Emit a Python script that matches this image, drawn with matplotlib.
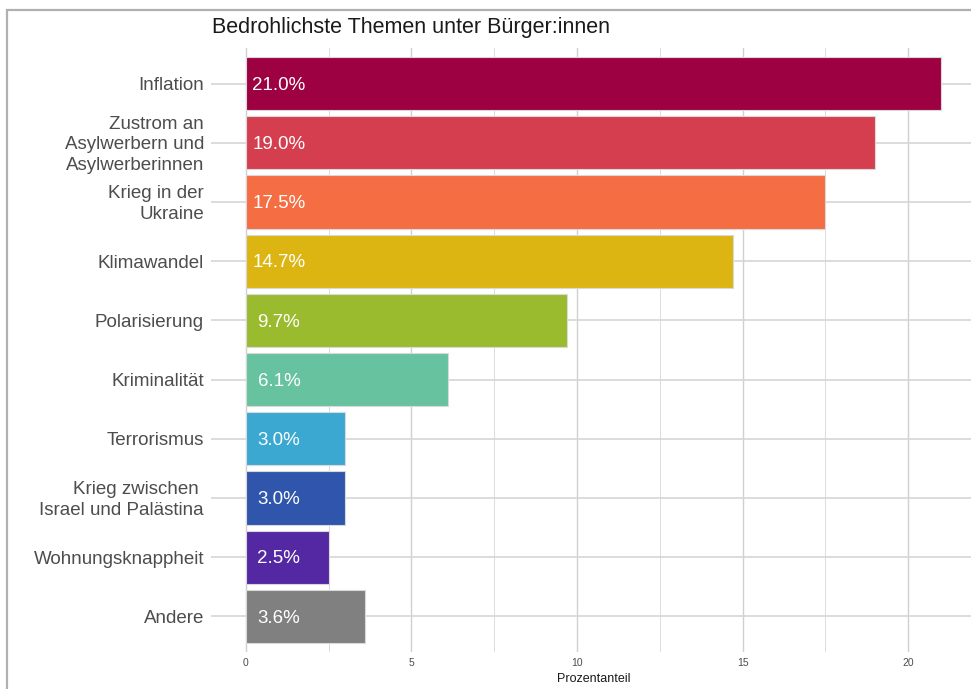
import matplotlib
matplotlib.use("Agg")
import matplotlib.pyplot as plt
import matplotlib.transforms as mtransforms
from matplotlib.patches import Rectangle
from matplotlib.ticker import MultipleLocator

categories = ["Inflation", "Zustrom an\nAsylwerbern und\nAsylwerberinnen", "Krieg in der\nUkraine",
              "Klimawandel", "Polarisierung", "Kriminalität", "Terrorismus",
              "Krieg zwischen \nIsrael und Palästina", "Wohnungsknappheit", "Andere"]
values = [21.0, 19.0, 17.5, 14.7, 9.7, 6.1, 3.0, 3.0, 2.5, 3.6]
colors = ["#9E0142", "#D53E4F", "#F46D43", "#DDB513", "#9ABB2E", "#66C29F",
          "#3BA8D1", "#2F56AC", "#5428A3", "#808080"]
title = "Bedrohlichste Themen unter Bürger:innen"
xlabel = "Prozentanteil"
xticks = [0, 5, 10, 15, 20]

plt.rcParams['font.family'] = ['Liberation Sans', 'DejaVu Sans']

W, H = 971, 689
fig = plt.figure(figsize=(W / 100, H / 100), dpi=100)

left, right, top, bottom = 211, 976, 48, 652
ax = fig.add_axes([left / W, 1 - bottom / H, (right - left) / W, (bottom - top) / H])

pos = list(range(1, len(categories) + 1))
ax.barh(pos, values, height=0.9, color=colors, edgecolor="#d9d9d9", linewidth=0.8, zorder=3)
val_tr = mtransforms.offset_copy(ax.transData, fig=fig, x=0, y=-1.2, units="points")
for p, v in zip(pos, values):
    ax.text(1.0, p, f"{v:.1f}%", transform=val_tr, color="white", fontsize=13.5,
            ha="center", va="center", zorder=4)

ax.set_xlim(-1.05, 22.05)
ax.set_ylim(10.6, 0.4)
ax.set_yticks(pos)
ax.set_yticklabels([""] * len(pos))
base = mtransforms.blended_transform_factory(ax.transAxes, ax.transData)
lab_tr = mtransforms.offset_copy(base, fig=fig, x=-5, y=-1.5, units="points")
for p, c in zip(pos, categories):
    ax.text(0, p, c, transform=lab_tr, fontsize=13.5, color="#4D4D4D", ha="right", va="center",
            multialignment="right", linespacing=1.28, clip_on=False)

ax.set_xticks(xticks)
ax.set_xticklabels([str(t) for t in xticks], fontsize=7.5, color="#4D4D4D")
ax.xaxis.set_minor_locator(MultipleLocator(2.5))
ax.tick_params(axis="both", which="both", length=0, pad=4)
ax.grid(axis="x", which="major", color="#d0d0d0", linewidth=1.0, zorder=0)
ax.grid(axis="x", which="minor", color="#dcdcdc", linewidth=0.7, zorder=0)
ax.grid(axis="y", which="major", color="#d6d6d6", linewidth=1.2, zorder=0)
for s in ax.spines.values():
    s.set_visible(False)
ax.set_xlabel(xlabel, fontsize=9, color="#1a1a1a", labelpad=4)

fig.text(212 / W, 1 - 27 / H, title, fontsize=15.5, color="#1a1a1a", ha="left", va="center")

fig.patches.append(Rectangle((7 / W, -0.05), 1.1, 1 - 10 / H + 0.05, transform=fig.transFigure,
                             fill=False, edgecolor="#b0b0b0", linewidth=1.6))

fig.savefig("out.png", dpi=100)
